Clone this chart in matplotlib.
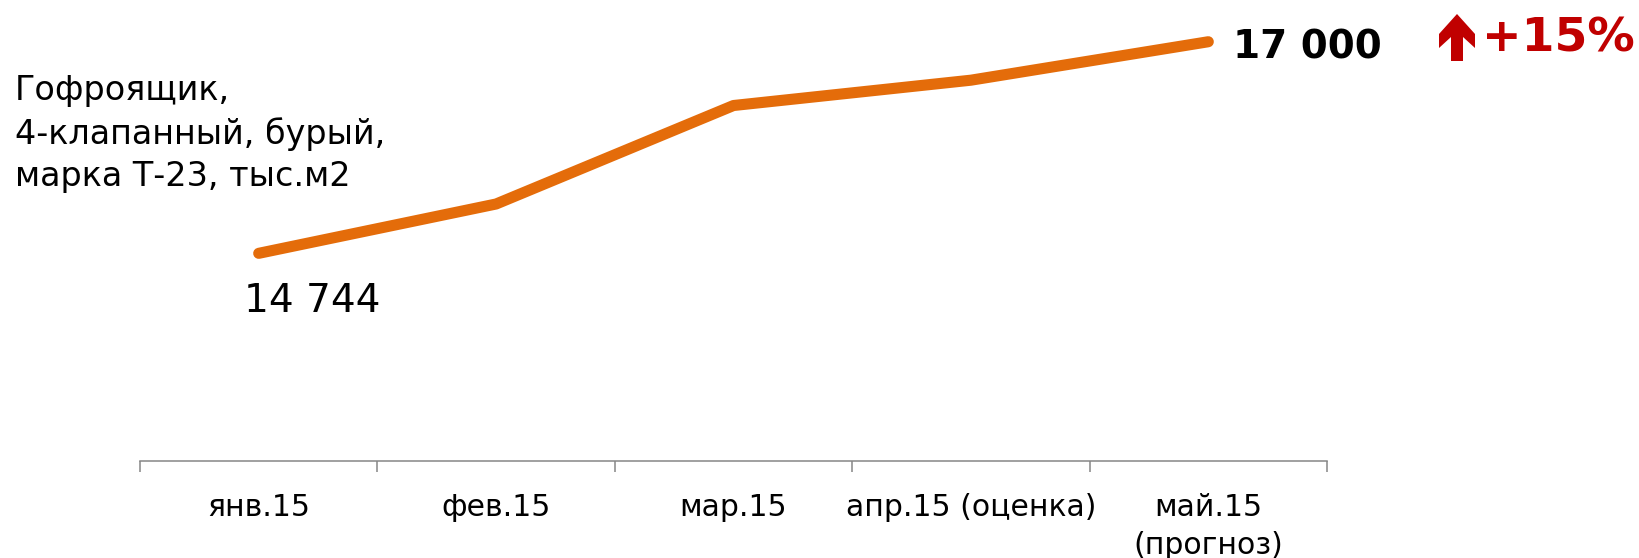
import matplotlib
matplotlib.use("Agg")
import matplotlib.pyplot as plt
from matplotlib.patches import Polygon

# data
months = ["янв.15", "фев.15", "мар.15", "апр.15 (оценка)", "май.15\n(прогноз)"]
volume = [14744, 15270, 16320, 16590, 17000]
first_label = "14 744"
last_label = "17 000"
growth_label = "+15%"
title = "Гофроящик,\n4-клапанный, бурый,\nмарка Т-23, тыс.м2"

W, H = 1639, 558
plt.rcParams['font.family'] = ['DejaVu Sans']

fig = plt.figure(figsize=(W / 100, H / 100), dpi=100)
ax = fig.add_axes([140 / W, 1 - 460.7 / H, (1327 - 140) / W, 460.7 / H])

x = list(range(len(months)))
ax.plot(x, volume, color="#E46C0A", lw=8, solid_capstyle="round",
        solid_joinstyle="round", clip_on=False)

ax.set_xlim(-0.5, len(months) - 0.5)
ax.set_ylim(12533, 17445)

for s in ["top", "left", "right"]:
    ax.spines[s].set_visible(False)
ax.spines["bottom"].set_color("#868686")
ax.spines["bottom"].set_linewidth(1.1)
ax.set_yticks([])

# category labels at centres, boundary ticks between them
ax.set_xticks(x)
ax.set_xticklabels(months, fontsize=21.5, linespacing=1.42)
ax.tick_params(axis="x", which="major", length=0, pad=23)
ax.set_xticks([i - 0.5 for i in range(len(months) + 1)], minor=True)
ax.tick_params(axis="x", which="minor", length=8, width=1.1, color="#868686")

# value labels at the ends of the line
ax.annotate(first_label, (x[0], volume[0]), xytext=(53, -59),
            textcoords="offset pixels", ha="center", va="baseline",
            fontsize=28, color="black")
ax.annotate(last_label, (x[-1], volume[-1]), xytext=(25, -17),
            textcoords="offset pixels", ha="left", va="baseline",
            fontsize=28, fontweight="bold", color="black")

fig.text(1482 / W, 1 - 51 / H, growth_label, ha="left", va="baseline",
         fontsize=34, fontweight="bold", color="#C00000")

# red up-arrow next to the growth figure (pixel outline -> figure fraction)
arrow_px = [(1457, 14), (1475, 34), (1475, 48), (1463, 37), (1463, 61),
            (1451, 61), (1451, 37), (1439, 48), (1439, 34)]
arrow = Polygon([(px / W, 1 - py / H) for px, py in arrow_px], closed=True,
                transform=fig.transFigure, facecolor="#C00000", edgecolor="none")
fig.patches.append(arrow)

fig.text(15 / W, 1 - 74 / H, title, ha="left", va="top", fontsize=24,
         linespacing=1.36, color="black")

fig.savefig("out.png", dpi=100)
